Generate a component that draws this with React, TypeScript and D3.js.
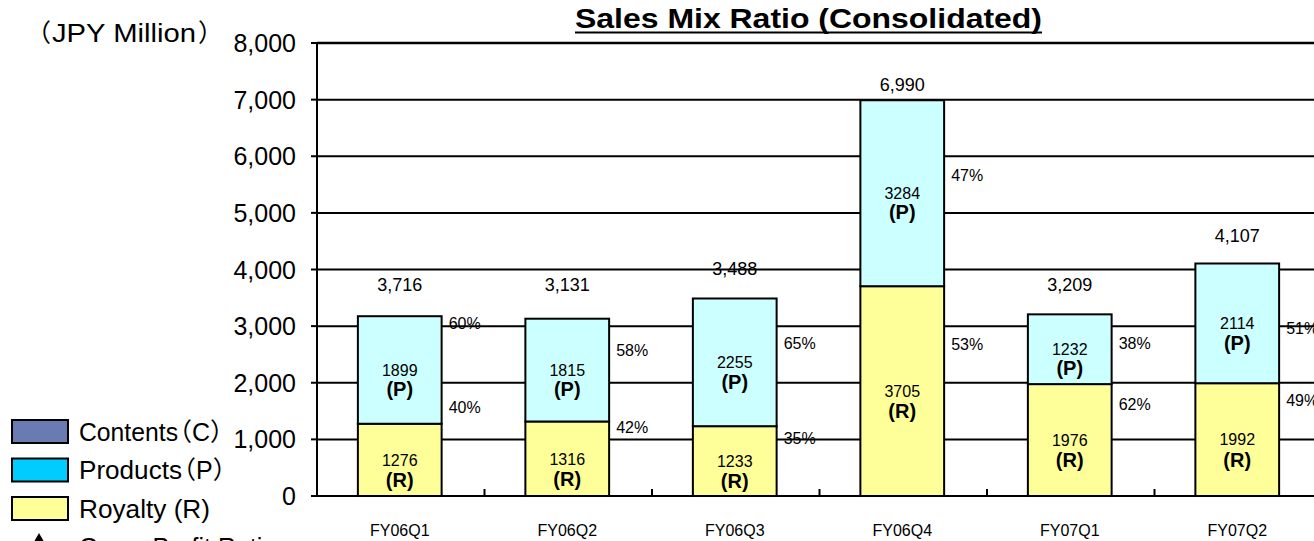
import React from "react";
import * as d3 from "d3";

const categories = ["FY06Q1", "FY06Q2", "FY06Q3", "FY06Q4", "FY07Q1", "FY07Q2"];
const royalty = [1276, 1316, 1233, 3705, 1976, 1992];
const products = [1899, 1815, 2255, 3284, 1232, 2114];
const totalLabels = ["3,716", "3,131", "3,488", "6,990", "3,209", "4,107"];
const yTicks = [0, 1000, 2000, 3000, 4000, 5000, 6000, 7000, 8000];
const legendNames = ["Contents", "Products", "Royalty"];
const legendCodes = ["（C）", "（P）", " (R)"];

// layout: label anchors (in data units) as placed in the original
const totalLabelAt = [3730, 3730, 4010, 7265, 3730, 4595];
const pPctAt = [3057, 2580, 2703, 5671, 2703, 2968];
const rPctAt = [1572, 1219, 1025, 2686, 1625, 1696];

const W = 1314, H = 541;
const left = 317, top = 43, bottom = 496, right = 1322;

export default function App() {
  const x = d3.scaleBand<string>().domain(categories).range([left, right]).padding(0);
  const y = d3.scaleLinear().domain([0, 8000]).range([bottom, top]);
  const bw = x.bandwidth() * 0.5;
  const font = "'Liberation Sans', Arial, 'Noto Sans CJK JP', sans-serif";
  const legendColors = ["#6a7bb2", "#00ccff", "#ffff99"];
  const fmt = (v: number) => Math.round(v * 100) + "%";

  return (
    <svg width={W} height={H} style={{ position: "absolute", left: 0, top: 0, background: "#fff" }} fontFamily={font}>
      {/* title */}
      <text x={575} y={28} fontSize={28} fontWeight="bold" textLength={467} lengthAdjust="spacingAndGlyphs" fill="#000">
        Sales Mix Ratio (Consolidated)
      </text>
      <line x1={575} x2={1042} y1={32.5} y2={32.5} stroke="#000" strokeWidth={2} />
      <text x={26} y={42} fontSize={25} fill="#000">
        <tspan>（</tspan>
        <tspan x={52} textLength={144} lengthAdjust="spacingAndGlyphs">JPY Million</tspan>
        <tspan x={198}>）</tspan>
      </text>

      {/* gridlines */}
      {yTicks.map((t) => (
        <g key={t}>
          <line x1={left} x2={right} y1={y(t)} y2={y(t)} stroke="#000" strokeWidth={t === 8000 ? 2.5 : 2} />
          <line x1={left - 6} x2={left} y1={y(t)} y2={y(t)} stroke="#000" strokeWidth={2} />
          <text x={296} y={y(t)} dy="0.36em" fontSize={25} textAnchor="end" fill="#000">
            {d3.format(",")(t)}
          </text>
        </g>
      ))}
      <line x1={left} x2={left} y1={top - 1} y2={bottom + 1} stroke="#000" strokeWidth={2} />

      {/* category ticks */}
      {categories.slice(1).map((c) => (
        <line key={c} x1={x(c)!} x2={x(c)!} y1={bottom} y2={bottom - 7} stroke="#000" strokeWidth={2} />
      ))}

      {/* bars */}
      {categories.map((c, i) => {
        const cx = x(c)! + x.bandwidth() / 2 - 1;
        const r = royalty[i], p = products[i];
        const tot = r + p;
        const rTop = y(r), pTop = y(r + p);
        const rMid = (rTop + bottom) / 2;
        const pMid = (pTop + rTop) / 2;
        return (
          <g key={c}>
            <rect x={cx - bw / 2} y={rTop} width={bw} height={bottom - rTop} fill="#ffff99" stroke="#000" strokeWidth={2} />
            <rect x={cx - bw / 2} y={pTop} width={bw} height={rTop - pTop} fill="#ccffff" stroke="#000" strokeWidth={2} />
            <text x={cx} y={rMid} dy="0.36em" fontSize={16} textAnchor="middle" fill="#000">{r}</text>
            <text x={cx} y={rMid + 20} dy="0.36em" fontSize={20} fontWeight="bold" textAnchor="middle" fill="#000">(R)</text>
            <text x={cx} y={pMid} dy="0.36em" fontSize={16} textAnchor="middle" fill="#000">{p}</text>
            <text x={cx} y={pMid + 19} dy="0.36em" fontSize={20} fontWeight="bold" textAnchor="middle" fill="#000">(P)</text>
            <text x={cx} y={y(totalLabelAt[i])} dy="0.36em" fontSize={18} textAnchor="middle" fill="#000">{totalLabels[i]}</text>
            <text x={cx + bw / 2 + 7} y={y(pPctAt[i])} dy="0.36em" fontSize={16} fill="#000">{fmt(p / tot)}</text>
            <text x={cx + bw / 2 + 7} y={y(rPctAt[i])} dy="0.36em" fontSize={16} fill="#000">{fmt(r / tot)}</text>
            <text x={cx} y={530} dy="0.36em" fontSize={16} textAnchor="middle" fill="#000">{c}</text>
          </g>
        );
      })}

      {/* legend */}
      {legendNames.map((t, i) => {
        const code = legendCodes[i];
        const full = code.startsWith("（");
        return (
          <g key={t}>
            <rect x={12} y={420 + i * 38.5} width={56} height={23} fill={legendColors[i]} stroke="#000" strokeWidth={2} />
            <text x={79} y={431.5 + i * 38.5} dy="0.36em" fontSize={25} fill="#000">
              {full ? (
                <>
                  <tspan textLength={i === 0 ? 99 : 103} lengthAdjust="spacingAndGlyphs">{t}</tspan>
                  <tspan dx={-11}>（</tspan>
                  <tspan>{code.slice(1, 2)}</tspan>
                  <tspan>）</tspan>
                </>
              ) : (
                <tspan textLength={131} lengthAdjust="spacingAndGlyphs">{t + code}</tspan>
              )}
            </text>
          </g>
        );
      })}
      <line x1={12} x2={68} y1={548} y2={548} stroke="#000" strokeWidth={2} />
      <path d="M39,533 L47,547 L31,547 Z" fill="#000" />
      <text x={79} y={547} dy="0.36em" fontSize={25} fill="#000">Gross Profit Ratio</text>
    </svg>
  );
}
